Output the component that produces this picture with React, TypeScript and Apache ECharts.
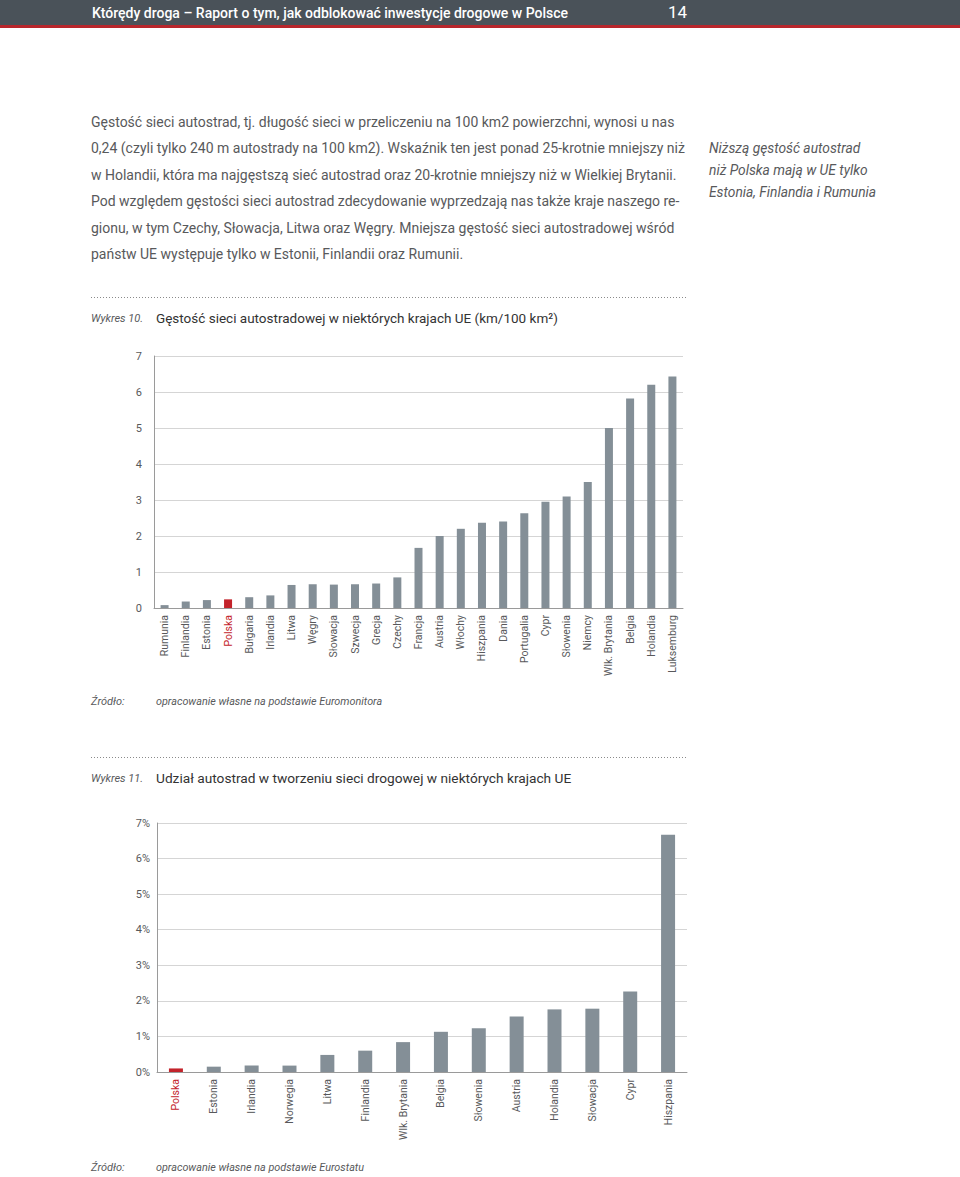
import React, { useEffect, useRef } from "react";
import * as echarts from "echarts";

const RED = "#c3232b";
const GRAY = "#848f97";
const TEXT = "#58595b";

const cats1 = ["Rumunia", "Finlandia", "Estonia", "Polska", "Bułgaria", "Irlandia", "Litwa", "Węgry", "Słowacja", "Szwecja", "Grecja", "Czechy", "Francja", "Austria", "Włochy", "Hiszpania", "Dania", "Portugalia", "Cypr", "Słowenia", "Niemcy", "Wlk. Brytania", "Belgia", "Holandia", "Luksemburg"];
const vals1 = [0.08, 0.18, 0.22, 0.24, 0.3, 0.35, 0.64, 0.66, 0.65, 0.66, 0.68, 0.85, 1.67, 2.0, 2.2, 2.37, 2.4, 2.63, 2.95, 3.1, 3.5, 5.0, 5.82, 6.2, 6.43];

const cats2 = ["Polska", "Estonia", "Irlandia", "Norwegia", "Litwa", "Finlandia", "Wlk. Brytania", "Belgia", "Słowenia", "Austria", "Holandia", "Słowacja", "Cypr", "Hiszpania"];
const vals2 = [0.1, 0.15, 0.18, 0.18, 0.48, 0.6, 0.84, 1.13, 1.23, 1.56, 1.76, 1.78, 2.26, 6.67];

const headerTitle = "Którędy droga – Raport o tym, jak odblokować inwestycje drogowe w Polsce";
const pageNumber = "14";
const bodyLines = [
  "Gęstość sieci autostrad, tj. długość sieci w przeliczeniu na 100 km2 powierzchni, wynosi u nas",
  "0,24 (czyli tylko 240 m autostrady na 100 km2). Wskaźnik ten jest ponad 25-krotnie mniejszy niż",
  "w Holandii, która ma najgęstszą sieć autostrad oraz 20-krotnie mniejszy niż w Wielkiej Brytanii.",
  "Pod względem gęstości sieci autostrad zdecydowanie wyprzedzają nas także kraje naszego re-",
  "gionu, w tym Czechy, Słowacja, Litwa oraz Węgry. Mniejsza gęstość sieci autostradowej wśród",
  "państw UE występuje tylko w Estonii, Finlandii oraz Rumunii.",
];
const sideLines = ["Niższą gęstość autostrad", "niż Polska mają w UE tylko", "Estonia, Finlandia i Rumunia"];
const chart1Label = "Wykres 10.";
const chart1Title = "Gęstość sieci autostradowej w niektórych krajach UE (km/100 km²)";
const chart1Source = "opracowanie własne na podstawie Euromonitora";
const chart2Label = "Wykres 11.";
const chart2Title = "Udział autostrad w tworzeniu sieci drogowej w niektórych krajach UE";
const chart2Source = "opracowanie własne na podstawie Eurostatu";
const sourceLabel = "Źródło:";

const FONT = "Roboto, 'Noto Sans', sans-serif";

function txt(text: string, x: number, y: number, size: number, fill: string, extra: any = {}) {
  return {
    type: "text",
    x,
    y,
    silent: true,
    style: {
      text,
      fill,
      font: `${extra.italic ? "italic " : ""}${extra.weight || "normal"} ${size}px ${FONT}`,
      textAlign: extra.align || "left",
      textVerticalAlign: "middle",
    },
  };
}

export default function App() {
  const ref = useRef<HTMLDivElement>(null);
  useEffect(() => {
    if (!ref.current) return;
    const chart = echarts.init(ref.current, undefined, { renderer: "svg" });

    const bodyStart = 122;
    const bodyStep = 26.4;
    const graphics: any[] = [
      { type: "rect", silent: true, shape: { x: 0, y: 0, width: 960, height: 25 }, style: { fill: "#4a5259" } },
      { type: "rect", silent: true, shape: { x: 0, y: 25, width: 960, height: 3 }, style: { fill: "#b8262c" } },
      txt(headerTitle, 92, 13, 14, "#ffffff", { weight: 500 }),
      txt(pageNumber, 668, 12, 17, "#ffffff"),
      ...bodyLines.map((l, i) => txt(l, 91, bodyStart + i * bodyStep, 14, TEXT)),
      ...sideLines.map((l, i) => txt(l, 709, 148 + i * 22, 13.8, TEXT, { italic: true })),
      { type: "line", silent: true, shape: { x1: 91, y1: 297.5, x2: 686, y2: 297.5 }, style: { stroke: "#8a8a8a", lineWidth: 1, lineDash: [1, 2] } },
      txt(chart1Label, 91, 318, 11, TEXT, { italic: true }),
      txt(chart1Title, 156, 318, 13.5, "#333333"),
      txt(sourceLabel, 91, 701, 11, TEXT, { italic: true }),
      txt(chart1Source, 156, 701, 10.8, TEXT, { italic: true }),
      { type: "line", silent: true, shape: { x1: 91, y1: 757.5, x2: 686, y2: 757.5 }, style: { stroke: "#8a8a8a", lineWidth: 1, lineDash: [1, 2] } },
      txt(chart2Label, 91, 778, 11, TEXT, { italic: true }),
      txt(chart2Title, 156, 778, 13.7, "#333333"),
      txt(sourceLabel, 91, 1167, 11, TEXT, { italic: true }),
      txt(chart2Source, 156, 1167, 10.8, TEXT, { italic: true }),
    ];

    const labelFmt = (v: string) => (v === "Polska" ? `{r|${v}}` : v);
    const xAxisBase = {
      type: "category",
      axisLine: { show: true, lineStyle: { color: "#9a9a9a", width: 1 } },
      axisTick: { show: false },
      axisLabel: {
        rotate: 90,
        interval: 0,
        margin: 7,
        color: "#58595b",
        fontSize: 10.5,
        fontFamily: FONT,
        formatter: labelFmt,
        rich: { r: { color: RED, fontSize: 10.5, fontFamily: FONT } },
      },
    };
    const yAxisBase = {
      type: "value",
      min: 0,
      max: 7,
      interval: 1,
      axisLine: { show: true, lineStyle: { color: "#9a9a9a", width: 1 } },
      axisTick: { show: false },
      splitLine: { show: true, lineStyle: { color: "#d5d5d5", width: 1 } },
    };

    chart.setOption({
      animation: false,
      backgroundColor: "#ffffff",
      graphic: { elements: graphics },
      grid: [
        { left: 154, top: 356, width: 529, height: 252, containLabel: false },
        { left: 157, top: 823, width: 530, height: 249, containLabel: false },
      ],
      xAxis: [
        { ...xAxisBase, gridIndex: 0, data: cats1 },
        { ...xAxisBase, gridIndex: 1, data: cats2 },
      ],
      yAxis: [
        { ...yAxisBase, gridIndex: 0, axisLabel: { margin: 12, color: "#58595b", fontSize: 11, fontFamily: FONT } },
        { ...yAxisBase, gridIndex: 1, axisLabel: { margin: 7, color: "#58595b", fontSize: 11, fontFamily: FONT, formatter: "{value}%" } },
      ],
      series: [
        {
          type: "bar",
          xAxisIndex: 0,
          yAxisIndex: 0,
          barWidth: 8,
          data: vals1.map((v, i) => ({ value: v, itemStyle: { color: cats1[i] === "Polska" ? RED : GRAY } })),
        },
        {
          type: "bar",
          xAxisIndex: 1,
          yAxisIndex: 1,
          barWidth: 14,
          data: vals2.map((v, i) => ({ value: v, itemStyle: { color: cats2[i] === "Polska" ? RED : GRAY } })),
        },
      ],
    });
    return () => chart.dispose();
  }, []);
  return <div ref={ref} style={{ position: "absolute", left: 0, top: 0, width: 960, height: 1177 }} />;
}
